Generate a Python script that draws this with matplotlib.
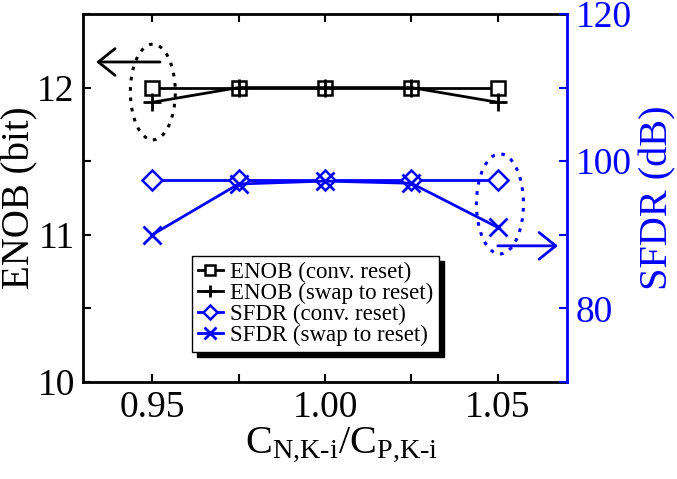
import matplotlib
matplotlib.use('Agg')
import matplotlib.pyplot as plt
from matplotlib.patches import Ellipse

plt.rcParams['font.family'] = 'Liberation Serif'
plt.rcParams['mathtext.fontset'] = 'custom'
plt.rcParams['mathtext.rm'] = 'Liberation Serif'
plt.rcParams['mathtext.it'] = 'Liberation Serif'

# data
ratio = [0.95, 0.975, 1.00, 1.025, 1.05]
enob_conv = [12.0, 12.0, 12.0, 12.0, 12.0]
enob_swap = [11.9, 12.0, 12.0, 12.0, 11.9]
sfdr_conv = [97.4, 97.4, 97.4, 97.4, 97.4]
sfdr_swap = [90.0, 96.9, 97.3, 97.0, 91.0]

blue = '#0000ff'
fs = 27

fig = plt.figure(figsize=(6.77, 4.79), dpi=100)
ax1 = fig.add_axes([0.1226, 0.2025, 0.7149, 0.7683])
ax2 = ax1.twinx()

l1, = ax1.plot(ratio, enob_conv, 'k-', marker='s', ms=10.5, mfc='white', mew=1.8, lw=2,
               label='ENOB (conv. reset)')
l2, = ax1.plot(ratio, enob_swap, 'k-', marker='+', ms=13, mew=2, lw=2,
               label='ENOB (swap to reset)')
l3, = ax2.plot(ratio, sfdr_conv, '-', color=blue, marker='D', ms=10.5, mfc='white', mew=1.8, lw=2,
               label='SFDR (conv. reset)')
l4, = ax2.plot(ratio, sfdr_swap, '-', color=blue, marker='x', ms=13, mew=2, lw=2,
               label='SFDR (swap to reset)')

ax1.set_xlim(0.93, 1.07)
ax1.set_ylim(10, 12.5)
ax2.set_ylim(70, 120)

ax1.set_xticks([0.95, 0.975, 1.00, 1.025, 1.05])
ax1.set_xticklabels(['0.95', '', '1.00', '', '1.05'])
ax1.set_yticks([10, 10.5, 11, 11.5, 12, 12.5])
ax1.set_yticklabels(['10', '', '11', '', '12', ''])
ax2.set_yticks([70, 80, 90, 100, 110, 120])
ax2.set_yticklabels(['', '80', '', '100', '', '120'])

ax1.tick_params(direction='in', length=6, width=1.5, labelsize=fs, top=True, right=False, pad=6)
ax2.tick_params(direction='in', length=6, width=1.5, labelsize=fs, colors=blue, pad=6)

for sp in ax1.spines.values():
    sp.set_linewidth(2)
ax1.spines['right'].set_visible(False)
for name in ['left', 'top', 'bottom']:
    ax2.spines[name].set_visible(False)
ax2.spines['right'].set_color(blue)
ax2.spines['right'].set_linewidth(2)

ax1.set_ylabel('ENOB (bit)', fontsize=28, labelpad=-1)
ax2.set_ylabel('SFDR (dB)', fontsize=29, color=blue, labelpad=6)
ax1.set_xlabel(r'$\mathrm{C_{\text{N,K-i}}/C_{\text{P,K-i}}}$', fontsize=29, labelpad=0)
ax1.xaxis.label.set_x(0.535)

# annotations
ax1.add_patch(Ellipse((0.9502, 11.97), 0.013, 0.65, fill=False, ec='k', lw=2.2,
                      ls=(0, (1.2, 2.2))))
ax1.annotate('', xy=(0.9338, 12.174), xytext=(0.9523, 12.174),
             arrowprops=dict(arrowstyle='->, head_length=0.4, head_width=0.32', lw=2,
                             color='k', mutation_scale=30, shrinkA=0, shrinkB=0))
ax2.add_patch(Ellipse((1.0506, 94.2), 0.0136, 13.6, fill=False, ec=blue, lw=2.2,
                      ls=(0, (1.2, 2.2))))
ax2.annotate('', xy=(1.0674, 88.5), xytext=(1.050, 88.5),
             arrowprops=dict(arrowstyle='->, head_length=0.4, head_width=0.32', lw=2,
                             color=blue, mutation_scale=30, shrinkA=0, shrinkB=0))

leg = ax2.legend(handles=[l1, l2, l3, l4], loc='lower left', bbox_to_anchor=(0.225, 0.0815),
                 borderaxespad=0, fontsize=16.5, fancybox=False, edgecolor='k', framealpha=1,
                 shadow={'color': 'black', 'alpha': 1, 'ox': 3.5, 'oy': -3.5},
                 handlelength=1.1, handletextpad=0.3, labelspacing=0.0, borderpad=0.25,
                 markerscale=0.7)
leg.get_frame().set_linewidth(1)

fig.savefig('out.png', dpi=100)
